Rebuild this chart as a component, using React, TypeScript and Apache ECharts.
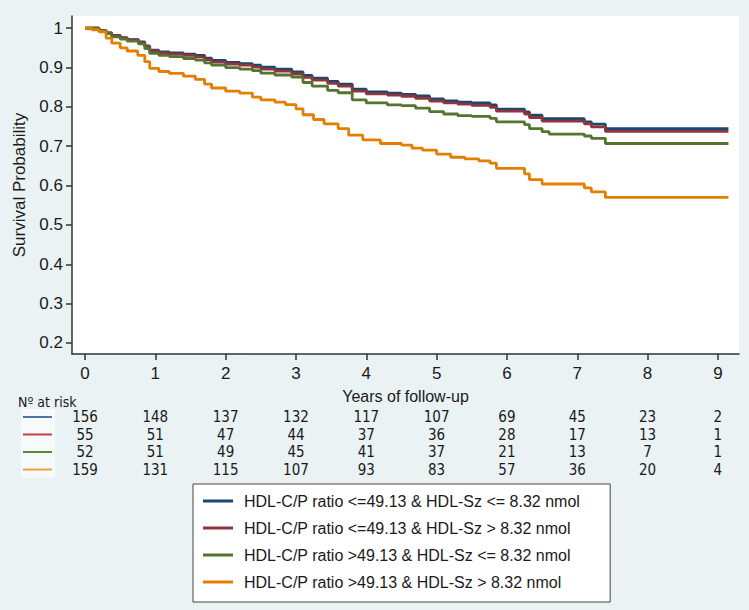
import React, { useEffect, useRef } from "react";
import * as echarts from "echarts";

// ---- Data ----
const groupNames = [
  "HDL-C/P ratio <=49.13 & HDL-Sz <= 8.32 nmol",
  "HDL-C/P ratio <=49.13 & HDL-Sz > 8.32 nmol",
  "HDL-C/P ratio >49.13 & HDL-Sz <= 8.32 nmol",
  "HDL-C/P ratio >49.13 & HDL-Sz > 8.32 nmol",
];

const blueTimes = [0, 0.2, 0.3, 0.38, 0.5, 0.6, 0.76, 0.85, 0.92, 1.05, 1.2, 1.4, 1.57, 1.7, 1.8, 2.0, 2.2, 2.38, 2.5, 2.7, 2.94, 3.1, 3.23, 3.45, 3.6, 3.8, 4.0, 4.3, 4.5, 4.7, 4.9, 5.1, 5.3, 5.5, 5.76, 5.85, 6.25, 6.32, 6.5, 7.1, 7.2, 7.4, 9.15];
const blueSurv = [1.0, 0.994, 0.988, 0.982, 0.976, 0.971, 0.965, 0.955, 0.944, 0.94, 0.937, 0.934, 0.931, 0.924, 0.918, 0.913, 0.91, 0.906, 0.901, 0.896, 0.889, 0.88, 0.873, 0.865, 0.858, 0.845, 0.838, 0.835, 0.832, 0.828, 0.82, 0.815, 0.812, 0.81, 0.805, 0.794, 0.787, 0.779, 0.77, 0.762, 0.756, 0.745, 0.745];

const redTimes = [0, 0.2, 0.3, 0.38, 0.5, 0.6, 0.76, 0.85, 0.92, 1.05, 1.2, 1.4, 1.57, 1.7, 1.8, 2.0, 2.2, 2.38, 2.5, 2.7, 2.94, 3.1, 3.23, 3.45, 3.6, 3.8, 4.0, 4.3, 4.5, 4.7, 4.9, 5.1, 5.3, 5.5, 5.76, 5.85, 6.25, 6.32, 6.5, 7.1, 7.2, 7.4, 9.15];
const redSurv = [1.0, 0.994, 0.988, 0.981, 0.975, 0.97, 0.963, 0.953, 0.942, 0.937, 0.934, 0.931, 0.927, 0.92, 0.914, 0.909, 0.906, 0.901, 0.896, 0.891, 0.884, 0.875, 0.868, 0.86, 0.853, 0.84, 0.833, 0.83, 0.827, 0.822, 0.815, 0.81, 0.807, 0.804, 0.799, 0.789, 0.782, 0.773, 0.764, 0.757, 0.749, 0.738, 0.738];

const greenTimes = [0, 0.2, 0.3, 0.38, 0.5, 0.6, 0.76, 0.85, 0.92, 1.05, 1.2, 1.4, 1.57, 1.7, 1.8, 2.0, 2.2, 2.38, 2.5, 2.7, 2.94, 3.1, 3.23, 3.45, 3.6, 3.8, 4.0, 4.3, 4.5, 4.7, 4.9, 5.1, 5.3, 5.5, 5.76, 5.85, 6.25, 6.32, 6.5, 6.6, 7.1, 7.2, 7.4, 9.15];
const greenSurv = [1.0, 0.993, 0.986, 0.978, 0.972, 0.967, 0.96, 0.948, 0.936, 0.931, 0.928, 0.923, 0.919, 0.912, 0.906, 0.9, 0.896, 0.892, 0.886, 0.881, 0.876, 0.862, 0.853, 0.842, 0.836, 0.818, 0.81, 0.805, 0.803, 0.797, 0.788, 0.782, 0.778, 0.776, 0.771, 0.762, 0.755, 0.745, 0.737, 0.731, 0.726, 0.72, 0.707, 0.707];

const orangeTimes = [0, 0.1, 0.2, 0.3, 0.38, 0.5, 0.6, 0.75, 0.85, 0.92, 1.05, 1.2, 1.4, 1.57, 1.7, 1.8, 2.0, 2.2, 2.38, 2.5, 2.7, 2.85, 3.0, 3.1, 3.25, 3.4, 3.6, 3.75, 3.95, 4.2, 4.5, 4.65, 4.8, 5.0, 5.2, 5.4, 5.6, 5.76, 5.85, 6.25, 6.32, 6.5, 7.1, 7.2, 7.4, 9.15];
const orangeSurv = [1.0, 0.996, 0.991, 0.975, 0.962, 0.95, 0.942, 0.931, 0.915, 0.898, 0.89, 0.885, 0.878, 0.87, 0.858, 0.848, 0.84, 0.835, 0.825, 0.818, 0.812, 0.806, 0.795, 0.78, 0.768, 0.757, 0.745, 0.728, 0.716, 0.707, 0.703, 0.695, 0.69, 0.68, 0.672, 0.668, 0.663, 0.657, 0.644, 0.63, 0.615, 0.604, 0.594, 0.584, 0.57, 0.57];

const xTicks = [0, 1, 2, 3, 4, 5, 6, 7, 8, 9];
const yTicks = [0.2, 0.3, 0.4, 0.5, 0.6, 0.7, 0.8, 0.9, 1];

const riskBlue = [156, 148, 137, 132, 117, 107, 69, 45, 23, 2];
const riskRed = [55, 51, 47, 44, 37, 36, 28, 17, 13, 1];
const riskGreen = [52, 51, 49, 45, 41, 37, 21, 13, 7, 1];
const riskOrange = [159, 131, 115, 107, 93, 83, 57, 36, 20, 4];

// ---- Styles ----
const lineColors = ["#1a476f", "#90353b", "#55752f", "#e37e00"];
const tableColors = ["#4a76a8", "#c0404a", "#5a8a30", "#f0a040"];
const bg = "#eaf2f3";
const sansFont = "'Liberation Sans', Arial, Helvetica, sans-serif";
const tableFont = "'Liberation Sans Narrow', 'DejaVu Sans Condensed', 'Open Sans', sans-serif";

export default function App() {
  const ref = useRef<HTMLDivElement>(null);

  useEffect(() => {
    if (!ref.current) return;
    const chart = echarts.init(ref.current, undefined, { renderer: "svg" });

    const groups = [
      { times: blueTimes, surv: blueSurv },
      { times: redTimes, surv: redSurv },
      { times: greenTimes, surv: greenSurv },
      { times: orangeTimes, surv: orangeSurv },
    ];

    chart.setOption({
      animation: false,
      backgroundColor: bg,
      textStyle: { fontFamily: sansFont },
      grid: {
        left: 72,
        right: 10,
        top: 16,
        bottom: 256,
        show: true,
        backgroundColor: "#ffffff",
        borderWidth: 0,
      },
      xAxis: {
        type: "value",
        min: -0.185,
        max: 9.3,
        name: "Years of follow-up",
        nameLocation: "middle",
        nameGap: 34,
        nameTextStyle: { fontSize: 16, color: "#1a1a1a", fontFamily: sansFont },
        axisLine: { show: true, onZero: false, lineStyle: { color: "#333", width: 1.5 } },
        axisTick: { show: true, length: 6, customValues: xTicks, lineStyle: { color: "#333", width: 1.5 } },
        axisLabel: { customValues: xTicks, fontSize: 17, color: "#1a1a1a", margin: 11, fontFamily: sansFont },
        splitLine: { show: false },
      },
      yAxis: {
        type: "value",
        min: 0.172,
        max: 1.031,
        name: "Survival Probability",
        nameLocation: "middle",
        nameGap: 37,
        nameTextStyle: { fontSize: 17, color: "#1a1a1a", fontFamily: sansFont },
        axisLine: { show: true, onZero: false, lineStyle: { color: "#333", width: 1.5 } },
        axisTick: { show: true, length: 6, customValues: yTicks, lineStyle: { color: "#333", width: 1.5 } },
        axisLabel: {
          customValues: yTicks,
          fontSize: 17,
          color: "#1a1a1a",
          margin: 9,
          fontFamily: sansFont,
          formatter: (v: number) => (v > 0.999 ? "1" : Number(v).toFixed(1)),
        },
        splitLine: { show: false },
      },
      legend: {
        orient: "vertical",
        left: 193,
        top: 484,
        backgroundColor: "#ffffff",
        borderColor: "#444",
        borderWidth: 1,
        borderRadius: 0,
        padding: [8, 30, 11, 10],
        itemGap: 9,
        itemWidth: 30,
        itemHeight: 3,
        icon: "rect",
        data: groupNames,
        textStyle: { fontSize: 16, color: "#1a1a1a", fontFamily: sansFont, lineHeight: 18, padding: [0, 0, 0, 6] },
      },
      series: groups.map((g, i) => ({
        name: groupNames[i],
        type: "line",
        step: "end",
        showSymbol: false,
        symbol: "none",
        color: lineColors[i],
        lineStyle: { width: 2.8, color: lineColors[i] },
        data: g.times.map((t, j) => [t, g.surv[j]]),
      })),
    });

    const risks = [riskBlue, riskRed, riskGreen, riskOrange];
    const rowY = [417, 434.5, 452, 469.5];
    const graphics: any[] = [
      {
        type: "text",
        left: 18,
        top: 395,
        style: { text: "Nº at risk", font: `14px ${tableFont}`, fill: "#1a1a1a" },
      },
      {
        type: "rect",
        shape: { x: 21, y: 409, width: 34, height: 69 },
        style: { fill: "#f7fafb" },
        z: 0,
      },
    ];
    risks.forEach((row, r) => {
      graphics.push({
        type: "line",
        shape: { x1: 23, y1: rowY[r], x2: 52, y2: rowY[r] },
        style: { stroke: tableColors[r], lineWidth: 2 },
        z: 1,
      });
      row.forEach((n, k) => {
        const px = chart.convertToPixel({ xAxisIndex: 0 }, xTicks[k]) as number;
        graphics.push({
          type: "text",
          x: px,
          y: rowY[r],
          style: {
            text: String(n),
            font: `15px ${tableFont}`,
            fill: "#1a1a1a",
            align: "center",
            verticalAlign: "middle",
          },
          z: 1,
        });
      });
    });
    chart.setOption({ graphic: graphics });

    return () => chart.dispose();
  }, []);

  return (
    <div
      ref={ref}
      style={{ position: "fixed", left: 0, top: 0, width: 749, height: 610 }}
    />
  );
}
